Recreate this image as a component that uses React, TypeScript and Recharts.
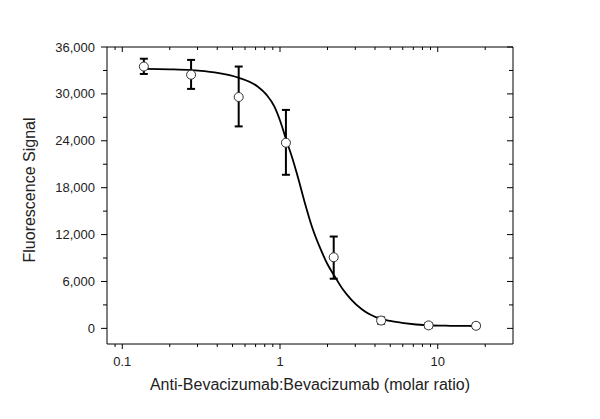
import React from 'react';
import { ComposedChart, XAxis, YAxis, Scatter, Line, ErrorBar, Label } from 'recharts';

const FONT = '"Liberation Sans", Arial, sans-serif';

// axis ticks
const X_MAJOR = [0.1, 1, 10];
const X_MINOR = [0.09, 0.2, 0.3, 0.4, 0.5, 0.6, 0.7, 0.8, 0.9, 2, 3, 4, 5, 6, 7, 8, 9, 20];
const Y_MAJOR = [0, 6000, 12000, 18000, 24000, 30000, 36000];
const Y_MINOR = [3000, 9000, 15000, 21000, 27000, 33000];

// measured points
const ratio = [0.137, 0.273, 0.547, 1.09, 2.19, 4.375, 8.75, 17.5];
const signal = [33500, 32450, 29600, 23750, 9100, 1000, 380, 330];
const errLow = [950, 1810, 3760, 4100, 2750, 400, 300, 300];
const errHigh = [1000, 1900, 3900, 4200, 2650, 400, 300, 300];

// fitted curve
const fitX = [0.137, 0.2, 0.273, 0.384, 0.55, 0.72, 0.82, 0.92, 1.0, 1.1, 1.2, 1.3, 1.43, 1.6, 1.82, 2.0, 2.2, 2.5, 2.81, 3.3, 3.7, 4.15, 5, 6.1, 8.6, 12, 17.7];
const fitY = [33200, 33150, 33050, 32750, 32050, 30950, 29900, 28400, 26600, 24000, 21700, 19300, 16200, 12900, 10000, 8200, 6800, 5000, 3750, 2450, 1800, 1350, 950, 680, 400, 330, 300];

const points = ratio.map((x, i) => ({ x, y: signal[i], err: [errLow[i], errHigh[i]] }));
const fit = fitX.map((x, i) => ({ x, y: fitY[i] }));

const xTicks = [...X_MAJOR, ...X_MINOR].sort((a, b) => a - b);
const yTicks = [...Y_MAJOR, ...Y_MINOR].sort((a, b) => a - b);

const BottomTick = (props: any) => {
  const { x, y, payload } = props;
  const major = X_MAJOR.includes(payload.value);
  return (
    <g>
      <line x1={x} x2={x} y1={y} y2={y + (major ? 5 : 3)} stroke="#000" />
      {major && (
        <text x={x} y={y + 22} textAnchor="middle" fontSize={13} fill="#222" fontFamily={FONT}>
          {payload.value}
        </text>
      )}
    </g>
  );
};

const TopTick = (props: any) => {
  const { x, y, payload } = props;
  const major = X_MAJOR.includes(payload.value);
  return <line x1={x} x2={x} y1={y} y2={y + (major ? 5 : 3)} stroke="#000" />;
};

const LeftTick = (props: any) => {
  const { x, y, payload } = props;
  const major = Y_MAJOR.includes(payload.value);
  return (
    <g>
      <line x1={x - (major ? 6 : 4)} x2={x} y1={y} y2={y} stroke="#000" />
      {major && (
        <text x={x - 12} y={y} textAnchor="end" dominantBaseline="central" fontSize={13} fill="#222" fontFamily={FONT}>
          {payload.value.toLocaleString('en-US')}
        </text>
      )}
    </g>
  );
};

const RightTick = (props: any) => {
  const { x, y, payload } = props;
  const major = Y_MAJOR.includes(payload.value);
  return <line x1={x - (major ? 6 : 4)} x2={x} y1={y} y2={y} stroke="#000" />;
};

const Dot = (props: any) => (
  <circle cx={props.cx} cy={props.cy} r={4.5} fill="#fff" stroke="#333" strokeWidth={1} />
);

export default function App() {
  return (
    <div style={{ position: 'absolute', left: 0, top: 0, width: 600, height: 419, background: '#fff' }}>
      <ComposedChart width={600} height={419} margin={{ top: 27, right: 67, bottom: 45, left: 47 }}>
        <XAxis
          xAxisId="b"
          dataKey="x"
          type="number"
          scale="log"
          domain={[0.08, 30]}
          allowDataOverflow
          ticks={xTicks}
          interval={0}
          height={30}
          tickSize={0}
          tickMargin={0}
          tickLine={false}
          axisLine={{ stroke: '#000' }}
          tick={<BottomTick />}
        >
          <Label
            content={() => (
              <text x={310} y={390} textAnchor="middle" fontSize={16} fill="#222" fontFamily={FONT}>
                Anti-Bevacizumab:Bevacizumab (molar ratio)
              </text>
            )}
          />
        </XAxis>
        <XAxis
          xAxisId="t"
          dataKey="x"
          type="number"
          scale="log"
          orientation="top"
          domain={[0.08, 30]}
          allowDataOverflow
          ticks={xTicks}
          interval={0}
          height={20}
          tickSize={0}
          tickMargin={0}
          tickLine={false}
          axisLine={{ stroke: '#000' }}
          tick={<TopTick />}
        />
        <YAxis
          yAxisId="l"
          type="number"
          domain={[-2000, 36000]}
          allowDataOverflow
          ticks={yTicks}
          interval={0}
          width={60}
          tickSize={0}
          tickMargin={0}
          tickLine={false}
          axisLine={{ stroke: '#000' }}
          tick={<LeftTick />}
        >
          <Label
            content={() => (
              <text
                x={29}
                y={190}
                transform="rotate(-90 29 190)"
                textAnchor="middle"
                dominantBaseline="central"
                fontSize={16}
                fill="#222"
                fontFamily={FONT}
              >
                Fluorescence Signal
              </text>
            )}
          />
        </YAxis>
        <YAxis
          yAxisId="r"
          orientation="right"
          type="number"
          domain={[-2000, 36000]}
          allowDataOverflow
          ticks={yTicks}
          interval={0}
          width={20}
          tickSize={0}
          tickMargin={0}
          tickLine={false}
          axisLine={{ stroke: '#000' }}
          tick={<RightTick />}
        />
        <Scatter data={points} dataKey="y" xAxisId="b" yAxisId="l" shape={<Dot />} isAnimationActive={false}>
          <ErrorBar dataKey="err" direction="y" width={4} stroke="#000" strokeWidth={2} />
        </Scatter>
        <Line
          data={fit}
          dataKey="y"
          xAxisId="b"
          yAxisId="l"
          type="monotone"
          stroke="#000"
          strokeWidth={1.8}
          dot={false}
          activeDot={false}
          isAnimationActive={false}
        />
      </ComposedChart>
    </div>
  );
}
